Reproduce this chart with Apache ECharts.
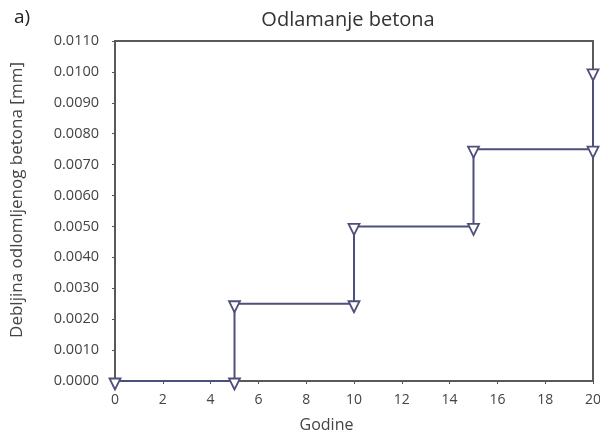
<!DOCTYPE html>
<html>
<head>
<meta charset="utf-8">
<script src="https://cdn.jsdelivr.net/npm/echarts@6/dist/echarts.min.js"></script>
<style>
  html, body { margin: 0; padding: 0; background: #fff; }
  #chart { width: 600px; height: 436px; }
</style>
</head>
<body>
<div id="chart"></div>
<script>
// step points
const years = [0, 5, 5, 10, 10, 15, 15, 20, 20];
const depth = [0, 0, 0.0025, 0.0025, 0.005, 0.005, 0.0075, 0.0075, 0.01];

const chart = echarts.init(document.getElementById('chart'));
const font = 'Open Sans';

const option = {
    animation: false,
    textStyle: { fontFamily: font },
    title: [
        {
            text: 'Odlamanje betona',
            left: 343, top: 5, textAlign: 'center',
            textStyle: { fontSize: 20, fontWeight: 'normal', color: '#333', fontFamily: font }
        },
        {
            text: 'a)',
            left: 9, top: 3,
            textStyle: { fontSize: 19, fontWeight: 'normal', color: '#222', fontFamily: font }
        }
    ],
    grid: {
        left: 115, right: 7, top: 41, bottom: 55,
        containLabel: false, outerBoundsMode: 'none',
        show: true, borderColor: '#5a5a5a', borderWidth: 2
    },
    xAxis: {
        type: 'value',
        min: 0, max: 20, interval: 2,
        name: 'Godine',
        nameLocation: 'middle',
        nameGap: 36,
        nameTextStyle: { fontSize: 16, color: '#444', padding: [0, 55, 0, 0] },
        axisLine: { show: true, lineStyle: { color: '#5a5a5a', width: 2 } },
        axisTick: { show: true, length: 3, lineStyle: { color: '#555' } },
        axisLabel: { fontSize: 14, color: '#444', margin: 12 },
        splitLine: { show: false }
    },
    yAxis: {
        type: 'value',
        min: 0, max: 0.011, interval: 0.001,
        name: 'Debljina odlomljenog betona [mm]',
        nameLocation: 'middle',
        nameGap: 89,
        nameTextStyle: { fontSize: 17, color: '#444', padding: [0, 0, 0, 22] },
        axisLine: { show: true, lineStyle: { color: '#5a5a5a', width: 2 } },
        axisTick: { show: true, length: 3, lineStyle: { color: '#555' } },
        axisLabel: { fontSize: 14.5, color: '#444', margin: 16, formatter: v => v.toFixed(4) },
        splitLine: { show: false }
    },
    series: [
        {
            type: 'line',
            data: years.map((x, i) => [x, depth[i]]),
            symbol: 'triangle',
            symbolRotate: 180,
            symbolSize: 11,
            symbolOffset: [0, 3],
            showAllSymbol: true,
            lineStyle: { color: '#4f4f7c', width: 2 },
            itemStyle: { color: '#fff', borderColor: '#4f4f7c', borderWidth: 1.8 }
        }
    ]
};

chart.setOption(option);
</script>
</body>
</html>
